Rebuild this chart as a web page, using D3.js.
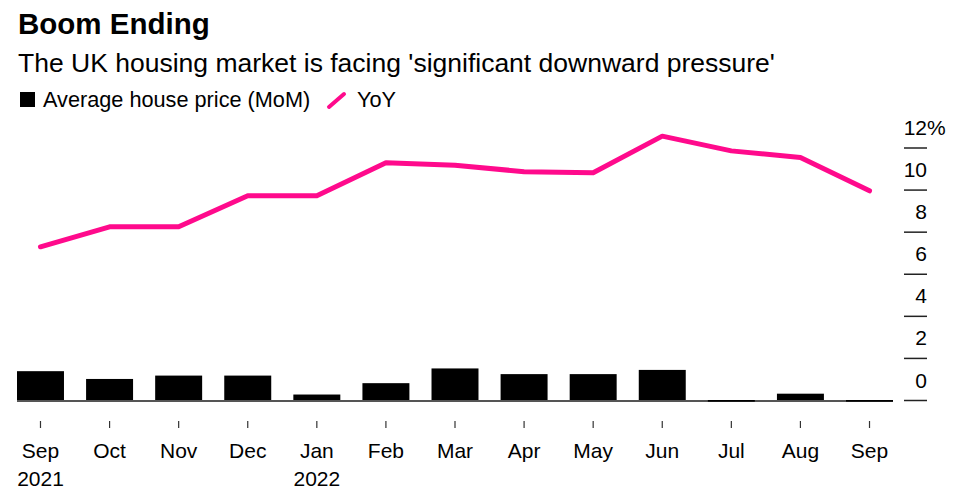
<!DOCTYPE html>
<html>
<head>
<meta charset="utf-8">
<script src="https://cdn.jsdelivr.net/npm/d3@7"></script>
<style>
  html, body { margin: 0; padding: 0; background: #fff; }
  svg { display: block; font-family: "Liberation Sans", Arial, Helvetica, sans-serif; }
</style>
</head>
<body>
<div id="chart"></div>
<script>
// data
const months = ['Sep', 'Oct', 'Nov', 'Dec', 'Jan', 'Feb', 'Mar', 'Apr', 'May', 'Jun', 'Jul', 'Aug', 'Sep'];
const years = ['2021', '', '', '', '2022', '', '', '', '', '', '', '', ''];
const momValues = [1.37, 1.0, 1.16, 1.16, 0.26, 0.8, 1.5, 1.23, 1.23, 1.43, -0.08, 0.3, -0.08];
const yoyValues = [7.28, 8.23, 8.23, 9.71, 9.71, 11.27, 11.16, 10.85, 10.8, 12.54, 11.84, 11.53, 9.94];
const yTicks = [0, 2, 4, 6, 8, 10, 12];

const width = 953;
const height = 495;
const pink = '#ff0a8c';

const svg = d3.select('#chart')
  .append('svg')
  .attr('width', width)
  .attr('height', height)
  .attr('viewBox', `0 0 ${width} ${height}`);

// title block
svg.append('text')
  .attr('x', 18).attr('y', 34)
  .style('font-size', '29.5px').style('font-weight', 'bold')
  .text('Boom Ending');

svg.append('text')
  .attr('x', 18).attr('y', 72)
  .style('font-size', '26.5px')
  .text("The UK housing market is facing 'significant downward pressure'");

// legend
const legend = svg.append('g');
legend.append('rect')
  .attr('x', 20).attr('y', 92).attr('width', 15).attr('height', 15)
  .attr('fill', '#000');
legend.append('text')
  .attr('x', 43).attr('y', 107)
  .style('font-size', '21.7px')
  .text('Average house price (MoM)');
legend.append('line')
  .attr('x1', 329).attr('y1', 107).attr('x2', 344).attr('y2', 94)
  .attr('stroke', pink).attr('stroke-width', 4).attr('stroke-linecap', 'round');
legend.append('text')
  .attr('x', 357).attr('y', 107)
  .style('font-size', '21.7px')
  .text('YoY');

// scales
const x = d3.scaleBand()
  .domain(d3.range(months.length))
  .range([17, 893])
  .paddingInner(0.32)
  .paddingOuter(0);

const y = d3.scaleLinear()
  .domain([0, 12])
  .range([400, 147.5]);

const cx = i => x(i) + x.bandwidth() / 2;

// zero baseline
svg.append('line')
  .attr('x1', x.range()[0]).attr('x2', x.range()[1])
  .attr('y1', y(0) + 1).attr('y2', y(0) + 1)
  .attr('stroke', '#555').attr('stroke-width', 2);

// bars
svg.append('g')
  .selectAll('rect')
  .data(momValues)
  .join('rect')
  .attr('x', (d, i) => x(i))
  .attr('width', x.bandwidth())
  .attr('y', d => Math.min(y(d), y(0)))
  .attr('height', d => Math.max(Math.abs(y(d) - y(0)), 1))
  .attr('fill', '#000');

// YoY line
const line = d3.line()
  .x((d, i) => cx(i))
  .y(d => y(d));

svg.append('path')
  .datum(yoyValues)
  .attr('d', line)
  .attr('fill', 'none')
  .attr('stroke', pink)
  .attr('stroke-width', 5)
  .attr('stroke-linejoin', 'round')
  .attr('stroke-linecap', 'round');

// x axis
const xAxis = svg.append('g')
  .attr('transform', 'translate(0,421)')
  .call(d3.axisBottom(x).tickSize(7).tickPadding(0).tickFormat(i => months[i]));

xAxis.select('.domain').remove();
xAxis.selectAll('.tick line').attr('stroke', '#333').attr('stroke-width', 1.2);
xAxis.selectAll('.tick text')
  .attr('y', 37).attr('dy', 0)
  .attr('fill', '#000')
  .style('font-size', '21px')
  .style('font-family', '"Liberation Sans", Arial, sans-serif')
  .each(function (i) {
    if (years[i]) {
      d3.select(this).append('tspan')
        .attr('x', 0).attr('dy', 27.5)
        .text(years[i]);
    }
  });

// y axis on the right
const yAxis = svg.append('g')
  .attr('transform', 'translate(904,0)')
  .call(d3.axisRight(y).tickValues(yTicks).tickSize(23).tickFormat(d3.format('d')));

yAxis.select('.domain').remove();
yAxis.selectAll('.tick line').attr('stroke', '#222').attr('stroke-width', 1.5);
yAxis.selectAll('.tick text')
  .attr('x', 23).attr('y', -13).attr('dy', 0)
  .attr('text-anchor', 'end')
  .attr('fill', '#000')
  .style('font-size', '21px')
  .style('font-family', '"Liberation Sans", Arial, sans-serif');

yAxis.selectAll('.tick')
  .filter(d => d === d3.max(yTicks))
  .append('text')
  .attr('x', 23).attr('y', -13)
  .attr('fill', '#000')
  .style('font-size', '21px')
  .style('font-family', '"Liberation Sans", Arial, sans-serif')
  .text('%');
</script>
</body>
</html>
